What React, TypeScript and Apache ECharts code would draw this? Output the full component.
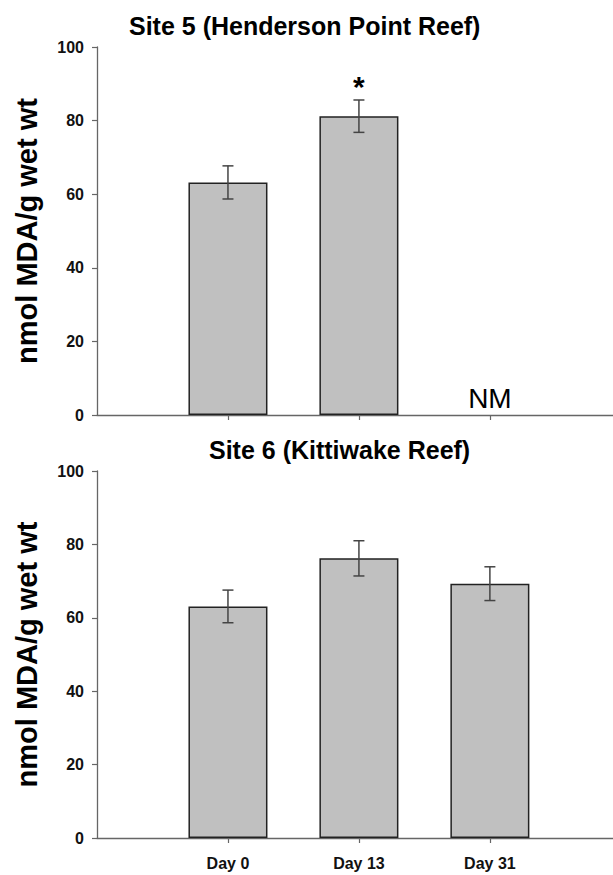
import React, { useEffect, useRef } from "react";
import * as echarts from "echarts";

const categories = ["Day 0", "Day 13", "Day 31"];
const site5Means: (number | null)[] = [63.2, 81.2, null];
const site5Errors: (number | null)[] = [4.5, 4.4, null];
const site5Notes = ["", "*", "NM"];
const site6Means: (number | null)[] = [63.1, 76.2, 69.3];
const site6Errors: (number | null)[] = [4.45, 4.8, 4.6];
const site6Notes = ["", "", ""];
const panelTitles = ["Site 5 (Henderson Point Reef)", "Site 6 (Kittiwake Reef)"];
const yTitle = "nmol MDA/g wet wt";
const yTicks = { min: 0, max: 100, interval: 20 };

const FONT = "Liberation Sans, Arial, sans-serif";

export default function App() {
  const ref = useRef<HTMLDivElement>(null);
  useEffect(() => {
    if (!ref.current) return;
    const chart = echarts.init(ref.current, null, { renderer: "svg" });
    const positions = categories.map((_, i) => i + 1);

    const barData = (means: (number | null)[]) =>
      positions.map((p, i) => (means[i] == null ? [p, "-"] : [p, means[i]]));
    const errData = (means: (number | null)[], errs: (number | null)[]) =>
      positions
        .map((p, i) => (means[i] == null || errs[i] == null ? null : [p, means[i], errs[i]]))
        .filter((d) => d != null);

    const errRender = (params: any, api: any) => {
      const x = api.value(0);
      const m = api.value(1);
      const e = api.value(2);
      const hi = api.coord([x, m + e]);
      const lo = api.coord([x, m - e]);
      const cap = 5.5;
      const style = { stroke: "#444", lineWidth: 1.5 };
      return {
        type: "group",
        children: [
          { type: "line", shape: { x1: hi[0], y1: hi[1], x2: lo[0], y2: lo[1] }, style },
          { type: "line", shape: { x1: hi[0] - cap, y1: hi[1], x2: hi[0] + cap, y2: hi[1] }, style },
          { type: "line", shape: { x1: lo[0] - cap, y1: lo[1], x2: lo[0] + cap, y2: lo[1] }, style },
        ],
      };
    };

    const makeNotes = (means: (number | null)[], errs: (number | null)[], notes: string[]) => {
      const data: number[][] = [];
      const texts: string[] = [];
      positions.forEach((p, i) => {
        if (!notes[i]) return;
        const y = means[i] == null ? 0 : (means[i] as number) + ((errs[i] as number) || 0);
        data.push([p, y]);
        texts.push(notes[i]);
      });
      const render = (params: any, api: any) => {
        const pt = api.coord([api.value(0), api.value(1)]);
        const txt = texts[params.dataIndex];
        const isStar = txt === "*";
        return {
          type: "text",
          x: pt[0],
          y: isStar ? pt[1] + 2 : pt[1] - 3,
          style: {
            text: txt,
            textAlign: "center",
            textVerticalAlign: "bottom",
            fontFamily: FONT,
            fontSize: isStar ? 30 : 28,
            fontWeight: isStar ? "bold" : "normal",
            fill: "#000",
          },
        };
      };
      return { data, render };
    };

    const grids = [
      { left: 97, top: 47, right: 0, height: 368 },
      { left: 97, top: 471, right: 0, height: 367 },
    ];

    const xAxes = grids.map((_, gi) => ({
      type: "value",
      gridIndex: gi,
      min: 0,
      max: 3.94,
      splitLine: { show: false },
      axisLine: { show: true, lineStyle: { color: "#666", width: 1.3 } },
      axisTick: { show: true, customValues: positions, length: 5, lineStyle: { color: "#666", width: 1.2 } },
      axisLabel: {
        show: gi === 1,
        customValues: positions,
        formatter: (v: number) => categories[Math.round(v) - 1] || "",
        fontFamily: FONT,
        fontSize: 16,
        fontWeight: "bold",
        color: "#111",
        margin: 17,
      },
    }));

    const yAxes = grids.map((_, gi) => ({
      type: "value",
      gridIndex: gi,
      min: yTicks.min,
      max: yTicks.max,
      interval: yTicks.interval,
      splitLine: { show: false },
      axisLine: { show: true, lineStyle: { color: "#666", width: 1.3 } },
      axisTick: { show: true, length: 5, lineStyle: { color: "#666", width: 1.2 } },
      axisLabel: {
        fontFamily: FONT,
        fontSize: 16,
        fontWeight: "bold",
        color: "#111",
        margin: 13,
      },
      name: yTitle,
      nameLocation: "middle",
      nameRotate: 90,
      nameGap: 56,
      nameTextStyle: {
        fontFamily: FONT,
        fontSize: 29,
        fontWeight: "bold",
        color: "#000",
      },
    }));

    const panels = [
      { means: site5Means, errs: site5Errors, notes: site5Notes },
      { means: site6Means, errs: site6Errors, notes: site6Notes },
    ];

    const series: any[] = [];
    panels.forEach((p, gi) => {
      series.push({
        type: "bar",
        xAxisIndex: gi,
        yAxisIndex: gi,
        data: barData(p.means),
        barWidth: 79,
        itemStyle: { color: "#c0c0c0", borderColor: "#222", borderWidth: 1.5 },
      });
      series.push({
        type: "custom",
        xAxisIndex: gi,
        yAxisIndex: gi,
        data: errData(p.means, p.errs),
        renderItem: errRender,
        z: 5,
      });
      const n = makeNotes(p.means, p.errs, p.notes);
      if (n.data.length) {
        series.push({
          type: "custom",
          xAxisIndex: gi,
          yAxisIndex: gi,
          data: n.data,
          renderItem: n.render,
          z: 6,
          clip: false,
        });
      }
    });

    chart.setOption({
      animation: false,
      backgroundColor: "#fff",
      title: [
        {
          text: panelTitles[0],
          left: 124,
          top: 8,
          textStyle: { fontFamily: FONT, fontSize: 25, fontWeight: "bold", color: "#000" },
        },
        {
          text: panelTitles[1],
          left: 204,
          top: 432,
          textStyle: { fontFamily: FONT, fontSize: 25, fontWeight: "bold", color: "#000" },
        },
      ],
      grid: grids,
      xAxis: xAxes,
      yAxis: yAxes,
      series,
    });
    return () => chart.dispose();
  }, []);
  return (
    <div
      ref={ref}
      style={{ position: "absolute", left: 0, top: 0, width: 613, height: 875, background: "#fff" }}
    />
  );
}
